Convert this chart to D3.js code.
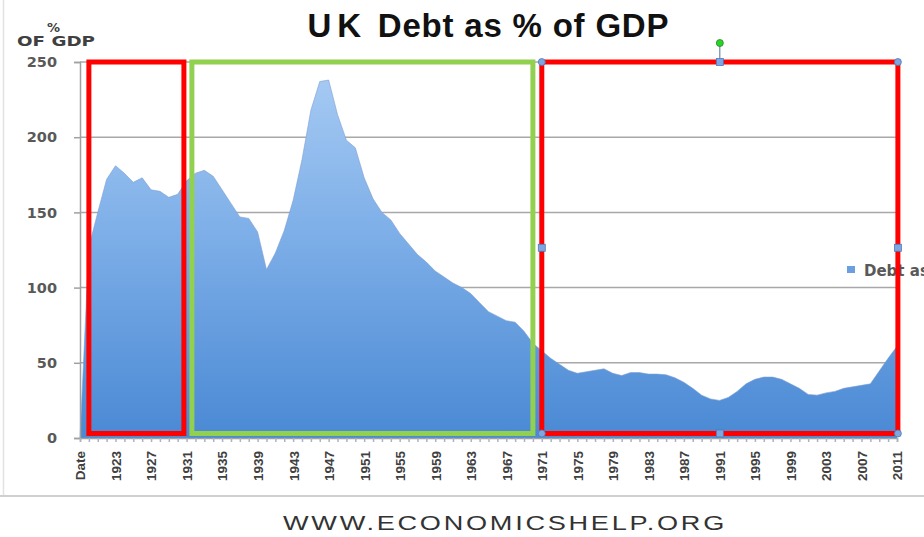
<!DOCTYPE html>
<html>
<head>
<meta charset="utf-8">
<script src="https://cdn.jsdelivr.net/npm/d3@7"></script>
<style>
  html, body { margin: 0; padding: 0; background: #fff; }
  svg { display: block; }
</style>
</head>
<body>
<svg id="chart" width="924" height="537"></svg>
<script>
// ---------- DATA ----------
const firstCategory = "Date";
const years = [1920,1921,1922,1923,1924,1925,1926,1927,1928,1929,
  1930,1931,1932,1933,1934,1935,1936,1937,1938,1939,
  1940,1941,1942,1943,1944,1945,1946,1947,1948,1949,
  1950,1951,1952,1953,1954,1955,1956,1957,1958,1959,
  1960,1961,1962,1963,1964,1965,1966,1967,1968,1969,
  1970,1971,1972,1973,1974,1975,1976,1977,1978,1979,
  1980,1981,1982,1983,1984,1985,1986,1987,1988,1989,
  1990,1991,1992,1993,1994,1995,1996,1997,1998,1999,
  2000,2001,2002,2003,2004,2005,2006,2007,2008,2009,
  2010,2011];
// value plotted for the "Date" header row (text -> 0)
const dateValue = 0;
const debtPct = [127,150,172,181,176,170,173,165,164,160,
  162,171,176,178,174,165,156,147,146,137,
  112,123,138,158,185,218,237,238,215,198,
  193,173,159,150,145,136,129,122,117,111,
  107,103,100,96,90,84,81,78,77,71,
  63,58,53,49,45,43,44,45,46,43,
  41.5,43.5,43.5,42.5,42.5,42,40,37,33,28.5,
  26,25,27,31,36,39,40.5,40.5,39,36,
  33,29,28.5,30,31,33,34,35,36,44.5,
  53,61];
const yTicks = [0,50,100,150,200,250];
const xLabelEvery = 4;
const seriesName = "Debt as % of GDP";
const titleText = ["U", "K", " Debt as % of GDP"];
const yAxisTitle = ["%", "OF GDP"];
const footerText = "WWW.ECONOMICSHELP.ORG";
// annotation boxes, in years / percent
const boxes = [
  {from: 1920, to: 1930.7, color: "#ff0000", handles: false},
  {from: 1931.6, to: 1970, color: "#92d050", handles: false},
  {from: 1971, to: 2011.1, color: "#ff0000", handles: true}
];
const boxTop = 250, boxBottom = 3;

// ---------- BUILD ----------
const categories = [firstCategory].concat(years.map(String));
const values = [dateValue].concat(debtPct);
const data = categories.map((c, i) => ({c, v: values[i]}));

const svg = d3.select("#chart");
svg.append("rect").attr("width", 924).attr("height", 537).attr("fill", "#fff");

const x = d3.scalePoint().domain(categories).range([80, 897]);
const y = d3.scaleLinear().domain([0, 250]).range([438, 62]);
const yearX = d3.scaleLinear().domain([1919, 2011]).range([x(firstCategory), x("2011")]);

// gradient
const defs = svg.append("defs");
const grad = defs.append("linearGradient").attr("id", "areaGrad")
  .attr("gradientUnits", "userSpaceOnUse")
  .attr("x1", 0).attr("x2", 0).attr("y1", y(250)).attr("y2", y(0));
grad.append("stop").attr("offset", "0%").attr("stop-color", "#a9ccf4");
grad.append("stop").attr("offset", "45%").attr("stop-color", "#7eafe8");
grad.append("stop").attr("offset", "100%").attr("stop-color", "#4a89d4");

// outer borders
svg.append("line").attr("x1", 3.5).attr("x2", 3.5).attr("y1", 0).attr("y2", 496)
  .attr("stroke", "#e2e2e2").attr("stroke-width", 1.5);
svg.append("line").attr("x1", 0).attr("x2", 924).attr("y1", 496).attr("y2", 496)
  .attr("stroke", "#cfcfcf").attr("stroke-width", 2);

// gridlines
svg.append("g").selectAll("line").data(yTicks.filter(t => t > 0)).join("line")
  .attr("x1", 80).attr("x2", 897)
  .attr("y1", d => y(d)).attr("y2", d => y(d))
  .attr("stroke", "#a8a8a8").attr("stroke-width", 1.5);

// area
const area = d3.area().x(d => x(d.c)).y0(y(0)).y1(d => y(d.v));
svg.append("path").datum(data).attr("d", area).attr("fill", "url(#areaGrad)");
const topLine = d3.line().x(d => x(d.c)).y(d => y(d.v));
svg.append("path").datum(data).attr("d", topLine).attr("fill", "none")
  .attr("stroke", "#7d9fd0").attr("stroke-width", 1).attr("stroke-opacity", 0.6);

// y axis
const yAxis = svg.append("g").attr("transform", "translate(80,0)")
  .call(d3.axisLeft(y).tickValues(yTicks).tickSize(6).tickPadding(17));
yAxis.select(".domain").attr("stroke", "#a0a0a0").attr("stroke-width", 1.5);
yAxis.selectAll(".tick line").attr("stroke", "#a0a0a0").attr("stroke-width", 1.5);
yAxis.selectAll(".tick text").attr("font-family", "DejaVu Sans").attr("font-weight", "bold")
  .attr("font-size", 14.5).attr("fill", "#595959");

// x axis minor ticks
const xAxisMinor = svg.append("g").attr("transform", `translate(0,${y(0)})`)
  .call(d3.axisBottom(x).tickSize(4).tickFormat(""));
xAxisMinor.select(".domain").attr("stroke", "#a0a0a0").attr("stroke-width", 1.5);
xAxisMinor.selectAll(".tick line").attr("stroke", "#a8b4c4").attr("stroke-width", 1.5);

// x labels
const labelCats = categories.filter((c, i) => i % xLabelEvery === 0);
const xAxis = svg.append("g").attr("transform", `translate(0,${y(0)})`)
  .call(d3.axisBottom(x).tickValues(labelCats).tickSize(0).tickPadding(0));
xAxis.select(".domain").remove();
xAxis.selectAll(".tick text")
  .attr("transform", "rotate(-90)")
  .attr("text-anchor", "end")
  .attr("x", -13).attr("y", 0).attr("dy", "0.36em")
  .attr("font-family", "Liberation Sans").attr("font-weight", "bold")
  .attr("font-size", 13.5).attr("fill", "#404040");

// legend
svg.append("rect").attr("x", 847).attr("y", 266).attr("width", 8).attr("height", 7)
  .attr("fill", "#6b9fe0");
svg.append("text").attr("x", 864).attr("y", 276).text(seriesName)
  .attr("font-family", "DejaVu Sans").attr("font-weight", "bold")
  .attr("font-size", 15).attr("fill", "#595959");

// title
const title = svg.append("text").attr("x", 488).attr("y", 37).attr("text-anchor", "middle")
  .attr("font-family", "Liberation Sans").attr("font-weight", "bold")
  .attr("font-size", 33).attr("fill", "#111")
  .attr("textLength", 361).attr("lengthAdjust", "spacing");
title.append("tspan").text(titleText[0]);
title.append("tspan").attr("dx", 5).text(titleText[1]);
title.append("tspan").attr("dx", 6).text(titleText[2]);

// y axis title
svg.append("text").attr("x", 53.5).attr("y", 32).attr("text-anchor", "middle").text(yAxisTitle[0])
  .attr("font-family", "DejaVu Sans").attr("font-weight", "bold")
  .attr("font-size", 13).attr("fill", "#404040");
svg.append("text").attr("x", 17).attr("y", 46).text(yAxisTitle[1])
  .attr("font-family", "DejaVu Sans").attr("font-weight", "bold")
  .attr("font-size", 14).attr("fill", "#404040")
  .attr("textLength", 78).attr("lengthAdjust", "spacingAndGlyphs");

// footer
svg.append("text").attr("x", 283).attr("y", 530).text(footerText)
  .attr("font-family", "Liberation Sans").attr("font-size", 20).attr("fill", "#333")
  .attr("letter-spacing", 2)
  .attr("textLength", 444).attr("lengthAdjust", "spacingAndGlyphs");

// annotation boxes
const gBox = svg.append("g");
boxes.forEach(b => {
  const x0 = yearX(b.from), x1 = yearX(b.to), y0 = y(boxTop), y1 = y(boxBottom);
  gBox.append("rect").attr("x", x0).attr("y", y0).attr("width", x1 - x0).attr("height", y1 - y0)
    .attr("fill", "none").attr("stroke", b.color).attr("stroke-width", 5);
  if (b.handles) {
    const xm = (x0 + x1) / 2, ym = (y0 + y1) / 2;
    gBox.append("line").attr("x1", xm).attr("x2", xm).attr("y1", y0 - 17).attr("y2", y0)
      .attr("stroke", "#4f6f9f").attr("stroke-width", 1);
    gBox.append("circle").attr("cx", xm).attr("cy", y0 - 19).attr("r", 3.5)
      .attr("fill", "#2ed02e").attr("stroke", "#1d8f1d").attr("stroke-width", 0.8);
    [[x0, y0], [x1, y0], [x0, y1], [x1, y1]].forEach(p => {
      gBox.append("circle").attr("cx", p[0]).attr("cy", p[1]).attr("r", 3.5)
        .attr("fill", "#7ea6e0").attr("stroke", "#4f79b8").attr("stroke-width", 0.8);
    });
    [[xm, y0], [xm, y1], [x0, ym], [x1, ym]].forEach(p => {
      gBox.append("rect").attr("x", p[0] - 3.5).attr("y", p[1] - 3.5).attr("width", 7).attr("height", 7)
        .attr("fill", "#7ea6e0").attr("stroke", "#4f79b8").attr("stroke-width", 0.8);
    });
  }
});
</script>
</body>
</html>
